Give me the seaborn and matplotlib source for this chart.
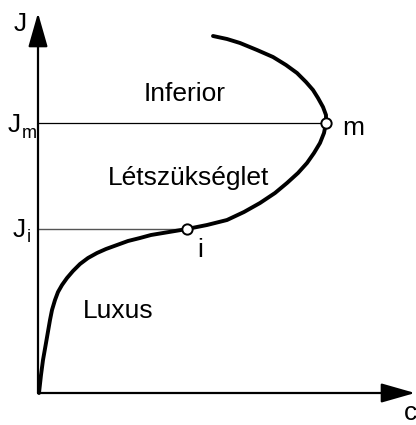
import numpy as np
import pandas as pd
import seaborn as sns
import matplotlib
matplotlib.use("Agg")
import matplotlib.pyplot as plt

sns.set_theme(style="white")
plt.rcParams["font.family"] = ["Liberation Sans", "DejaVu Sans"]
plt.rcParams["text.color"] = "black"

# Engel-curve: consumption c (x) vs income J (y)
c_vals = [1, 3, 5, 8, 12, 14, 17, 20, 24, 29, 35, 42, 50, 59, 68, 79, 90, 102, 113, 125, 137, 149,
          169, 189, 206, 222, 237, 249, 260, 269, 276, 282, 286, 288, 288, 285, 280, 275, 268,
          259, 248, 235, 219, 202, 189, 175]
j_vals = [0, 18, 33, 50, 73, 83, 93, 101, 108, 115, 122, 129, 135, 140, 144, 148, 152, 155, 158,
          160, 162, 164, 168, 173, 181, 190, 200, 210, 220, 230, 240, 250, 260, 270, 278, 286, 295,
          303, 311, 320, 328, 336, 343, 350, 354, 357]

point_names = ["i", "m"]
point_c = [149, 288]
point_j = [164, 270]

region_names = ["Inferior", "Létszükséglet", "Luxus"]
region_c = [147, 151, 80]
region_j = [292, 208, 75]

df = pd.DataFrame({"c": c_vals, "J": j_vals})
pts = pd.DataFrame({"c": point_c, "J": point_j, "name": point_names})

fig = plt.figure(figsize=(4.16, 4.25), dpi=100)
ax = fig.add_axes([0, 0, 1, 1])

# guide lines J_m and J_i
ax.plot([0, point_c[1]], [point_j[1], point_j[1]], color="black", lw=0.9, zorder=1)
ax.plot([0, point_c[0]], [point_j[0], point_j[0]], color="#555555", lw=1.0, zorder=1)

# axes with arrows
arrow = dict(arrowstyle="-|>,head_length=2.1,head_width=0.6", mutation_scale=10,
             color="black", lw=1.6, shrinkA=0, shrinkB=0)
ax.annotate("", xy=(0, 380), xytext=(0, 0), arrowprops=arrow, zorder=2)
ax.annotate("", xy=(377, 0), xytext=(0, 0), arrowprops=arrow, zorder=2)

sns.lineplot(data=df, x="c", y="J", sort=False, estimator=None,
             color="black", lw=2.8, ax=ax, zorder=3)
sns.scatterplot(data=pts, x="c", y="J", s=55, color="white", edgecolor="black",
                linewidth=1.4, ax=ax, zorder=4)
ax.set_xlim(-38, 378)
ax.set_ylim(-32, 393)
ax.axis("off")

fs = 19
for name, x, y in zip(region_names, region_c, region_j):
    ax.text(x, y, name, fontsize=fs, ha="center", va="baseline")

ax.text(point_c[1] + 16, point_j[1] - 12, "m", fontsize=fs, ha="left", va="baseline")
ax.text(point_c[0] + 13, point_j[0] - 28, "i", fontsize=fs, ha="center", va="baseline")

# axis labels
ax.text(-18, 362, "J", fontsize=fs, ha="center", va="baseline")
ax.text(366, -27, "c", fontsize=fs, ha="left", va="baseline")
ax.text(-17, point_j[1] - 9, "J", fontsize=fs, ha="right", va="baseline")
ax.text(-16, point_j[1] - 15, "m", fontsize=13, ha="left", va="baseline")
ax.text(-12, point_j[0] - 8, "J", fontsize=fs, ha="right", va="baseline")
ax.text(-11, point_j[0] - 13, "i", fontsize=13, ha="left", va="baseline")

fig.savefig("out.png", dpi=100)
